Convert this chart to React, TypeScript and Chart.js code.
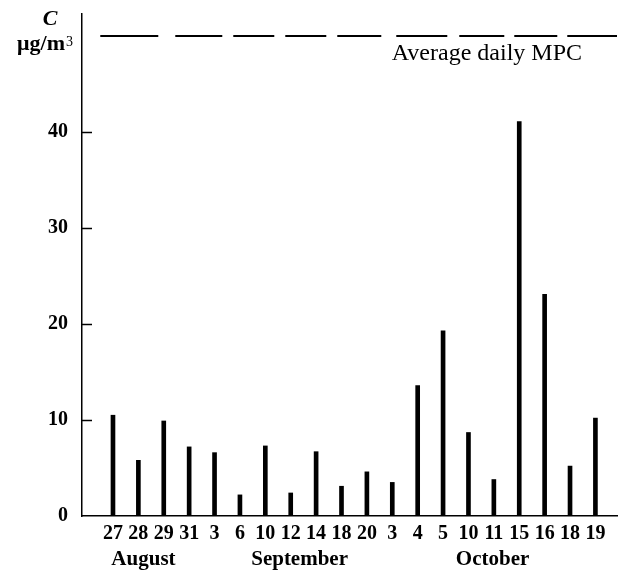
import React, { useEffect, useRef } from 'react';
import { Chart, registerables } from 'chart.js';

Chart.register(...registerables);

const dayLabels = ['27', '28', '29', '31', '3', '6', '10', '12', '14', '18', '20', '3', '4', '5', '10', '11', '15', '16', '18', '19'];
const concentration = [10.5, 5.8, 9.9, 7.2, 6.6, 2.2, 7.3, 2.4, 6.7, 3.1, 4.6, 3.5, 13.6, 19.3, 8.7, 3.8, 41.1, 23.1, 5.2, 10.2];
const yTickValues = [0, 10, 20, 30, 40];
const mpcValue = 50;
const mpcLabel = 'Average daily MPC';
const monthNames = ['August', 'September', 'October'];
const monthCenters = [1.2, 7.35, 14.95];

const SERIF = '"Liberation Serif", "Times New Roman", serif';

const decorPlugin = {
  id: 'decor',
  afterDraw(chart: any) {
    const ctx = chart.ctx;
    const xs = chart.scales.x;
    const ys = chart.scales.y;
    const area = chart.chartArea;
    ctx.save();
    // inward tick marks on y axis
    ctx.strokeStyle = '#000';
    ctx.lineWidth = 1.5;
    yTickValues.forEach((v) => {
      if (v === 0) return;
      const y = Math.round(ys.getPixelForValue(v)) + 0.5;
      ctx.beginPath();
      ctx.moveTo(area.left, y);
      ctx.lineTo(area.left + 10, y);
      ctx.stroke();
    });
    // MPC dashed line
    const my = ys.getPixelForValue(mpcValue);
    ctx.lineWidth = 2;
    ctx.setLineDash([58, 17, 47, 11, 41, 11, 41, 11, 44, 15, 51, 12, 45, 10, 43, 10, 51, 10]);
    ctx.beginPath();
    ctx.moveTo(xs.getPixelForValue(-0.5), my);
    ctx.lineTo(area.right, my);
    ctx.stroke();
    ctx.setLineDash([]);
    // MPC label
    ctx.fillStyle = '#000';
    ctx.font = `24px ${SERIF}`;
    ctx.textAlign = 'right';
    ctx.textBaseline = 'alphabetic';
    ctx.fillText(mpcLabel, area.right - 35, my + 24);
    // axis title
    ctx.font = `italic bold 22px ${SERIF}`;
    ctx.textAlign = 'center';
    ctx.fillText('C', 50, 25);
    ctx.font = `bold 22px ${SERIF}`;
    ctx.textAlign = 'right';
    ctx.fillText('μg/m', 65, 50);
    ctx.font = `14px ${SERIF}`;
    ctx.textAlign = 'left';
    ctx.fillText('3', 66, 46);
    // month labels
    ctx.font = `bold 21px ${SERIF}`;
    ctx.textAlign = 'center';
    ctx.textBaseline = 'middle';
    monthNames.forEach((m, i) => {
      ctx.fillText(m, xs.getPixelForValue(monthCenters[i]), 560);
    });
    ctx.restore();
  },
};

export default function App() {
  const ref = useRef<HTMLCanvasElement>(null);
  useEffect(() => {
    if (!ref.current) return;
    const chart = new Chart(ref.current, {
      type: 'bar',
      data: {
        datasets: [
          {
            data: concentration.map((v, i) => ({ x: i, y: v })),
            backgroundColor: '#000',
            borderWidth: 0,
            barThickness: 4,
          },
        ],
      },
      options: {
        animation: false,
        responsive: false,
        layout: { padding: { top: 14, right: 7, left: 0, bottom: 0 } },
        plugins: { legend: { display: false }, tooltip: { enabled: false } },
        scales: {
          x: {
            type: 'linear',
            offset: false,
            min: -1.22,
            max: 19.85,
            grid: { display: false, drawTicks: false, offset: false },
            border: { display: true, color: '#000', width: 1.5 },
            afterBuildTicks: (scale: any) => {
              scale.ticks = dayLabels.map((_, i) => ({ value: i }));
            },
            afterFit: (scale: any) => {
              scale.height = 58;
              scale.paddingLeft = 0;
              scale.paddingRight = 0;
            },
            ticks: {
              autoSkip: false,
              maxRotation: 0,
              padding: 6,
              color: '#000',
              font: { family: SERIF, size: 20, weight: 'bold' },
              callback: (v: any) => dayLabels[v] ?? '',
            },
          },
          y: {
            min: 0,
            max: 52.3,
            grid: { display: false, drawTicks: false },
            border: { display: true, color: '#000', width: 1.5 },
            afterBuildTicks: (scale: any) => {
              scale.ticks = yTickValues.map((v) => ({ value: v }));
            },
            afterFit: (scale: any) => {
              scale.width = 82;
              scale.paddingTop = 0;
              scale.paddingBottom = 0;
            },
            ticks: {
              padding: 14,
              color: '#000',
              font: { family: SERIF, size: 20, weight: 'bold' },
            },
          },
        },
      },
      plugins: [decorPlugin],
    });
    return () => chart.destroy();
  }, []);
  return (
    <canvas
      ref={ref}
      width={624}
      height={574}
      style={{ position: 'fixed', left: 0, top: 0, display: 'block', background: '#fff' }}
    />
  );
}
